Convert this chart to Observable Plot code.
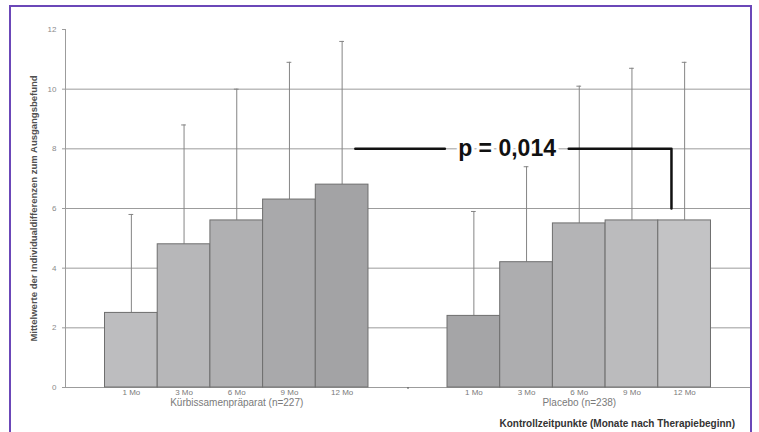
<!DOCTYPE html>
<html>
<head>
<meta charset="utf-8">
<script src="https://cdn.jsdelivr.net/npm/d3@7"></script>
<script src="https://cdn.jsdelivr.net/npm/@observablehq/plot@0.6"></script>
<style>
  html, body { margin: 0; padding: 0; background: #fff; }
  #wrap { position: relative; width: 759px; height: 432px; overflow: hidden; font-family: "Liberation Sans", Arial, sans-serif; }
  #frame { position: absolute; left: 9px; top: 5px; width: 743px; height: 500px; border: 2px solid #6b47b8; box-sizing: border-box; pointer-events: none; }
  #caption { position: absolute; left: 0; top: 416px; width: 735px; text-align: right; font: bold 10px "Liberation Sans", Arial, sans-serif; color: #333; line-height: 16px; }
  svg { display: block; }
</style>
</head>
<body>
<div id="wrap">
  <div id="chart"></div>
  <div id="caption">Kontrollzeitpunkte (Monate nach Therapiebeginn)</div>
  <div id="frame"></div>
</div>
<script>
// ---- data ----
const months = ["1 Mo", "3 Mo", "6 Mo", "9 Mo", "12 Mo"];
const groups = ["Kürbissamenpräparat (n=227)", "Placebo (n=238)"];
const meanKuerbis  = [2.5, 4.8, 5.6, 6.3, 6.8];
const upperKuerbis = [5.8, 8.8, 10.0, 10.9, 11.6];
const meanPlacebo  = [2.4, 4.2, 5.5, 5.6, 5.6];
const upperPlacebo = [5.9, 7.4, 10.1, 10.7, 10.9];
const yTicks = [0, 2, 4, 6, 8, 10, 12];
const gridValues = [2, 4, 6, 8, 10];
const yTitle = "Mittelwerte der Individualdifferenzen zum Ausgangsbefund";
const pLabel = "p = 0,014";
// annotation bracket (x in bar-slot units, y in data units)
const bracketLeft  = [{x: 5.5, y: 8}, {x: 7.2, y: 8}];
const bracketRight = [{x: 9.55, y: 8}, {x: 11.5, y: 8}, {x: 11.5, y: 6}];
const pLabelPos = [{x: 8.38, y: 8}];

// ---- styles ----
const fillsKuerbis = ["#bdbdbf", "#b7b7b9", "#b0b0b2", "#a9a9ab", "#a3a3a5"];
const fillsPlacebo = ["#a5a5a7", "#adadaf", "#b4b4b6", "#bbbbbd", "#c3c3c5"];

// ---- layout in bar-slot units: outer pad 0.75, 5 bars, gap 1.5, 5 bars, pad 0.75 ----
const outerPad = 0.75, groupStep = 6.5;
const rows = [];
[[meanKuerbis, upperKuerbis, fillsKuerbis], [meanPlacebo, upperPlacebo, fillsPlacebo]].forEach(([m, u, f], g) => {
  months.forEach((mo, i) => {
    const x1 = outerPad + g * groupStep + i;
    rows.push({group: groups[g], month: mo, x1, x2: x1 + 1, xc: x1 + 0.5, mean: m[i], upper: u[i], fill: f[i]});
  });
});
const groupRows = groups.map((g, k) => ({group: g, xc: outerPad + k * groupStep + months.length / 2}));
const separator = [groupStep];
const capHalf = 0.045;

const plot = Plot.plot({
  width: 759,
  height: 416,
  marginTop: 29,
  marginBottom: 29,
  marginLeft: 65,
  marginRight: 9,
  x: {domain: [0, 2 * groupStep], axis: null},
  y: {domain: [0, 12], axis: null},
  color: {type: "identity"},
  style: {fontFamily: "'Liberation Sans', Arial, sans-serif", background: "transparent"},
  marks: [
    Plot.ruleY(gridValues, {stroke: "#9c9c9c", strokeWidth: 1}),
    Plot.ruleY([0], {stroke: "#9c9c9c", strokeWidth: 1}),
    Plot.ruleX([0], {y1: 0, y2: 12, stroke: "#9c9c9c", strokeWidth: 1}),
    Plot.axisY({ticks: yTicks, tickSize: 3, tickPadding: 6, fontSize: 8, color: "#8a8a8a", stroke: "#9c9c9c", label: null}),
    Plot.axisX({ticks: separator, tickSize: 2, tickFormat: () => "", stroke: "#555", label: null}),
    // error whiskers
    Plot.ruleX(rows, {x: "xc", y1: "mean", y2: "upper", stroke: "#858585", strokeWidth: 1}),
    Plot.ruleY(rows, {y: "upper", x1: d => d.xc - capHalf, x2: d => d.xc + capHalf, stroke: "#858585", strokeWidth: 1}),
    // bars
    Plot.rect(rows, {x1: "x1", x2: "x2", y1: 0, y2: "mean", fill: "fill", stroke: "#6e6e6e", strokeWidth: 1}),
    // month labels
    Plot.text(rows, {x: "xc", y: 0, text: "month", lineAnchor: "top", dy: 2, fontSize: 8, fill: "#7a7a7a"}),
    // group labels
    Plot.text(groupRows, {x: "xc", y: 0, text: "group", lineAnchor: "top", dy: 11, fontSize: 10, fill: "#7a7a7a"}),
    // y title
    Plot.text([yTitle], {frameAnchor: "left", textAnchor: "middle", rotate: -90, dx: -32, dy: 0, fontSize: 9.5, fontWeight: "bold", fill: "#505050"}),
    // bracket annotation
    Plot.line(bracketLeft, {x: "x", y: "y", stroke: "#111", strokeWidth: 2.5}),
    Plot.line(bracketRight, {x: "x", y: "y", stroke: "#111", strokeWidth: 2.5}),
    Plot.text(pLabelPos, {x: "x", y: "y", text: () => pLabel, fontSize: 23, fontWeight: "bold", fill: "#111", stroke: "white", strokeWidth: 6})
  ]
});
document.getElementById("chart").appendChild(plot);
</script>
</body>
</html>
